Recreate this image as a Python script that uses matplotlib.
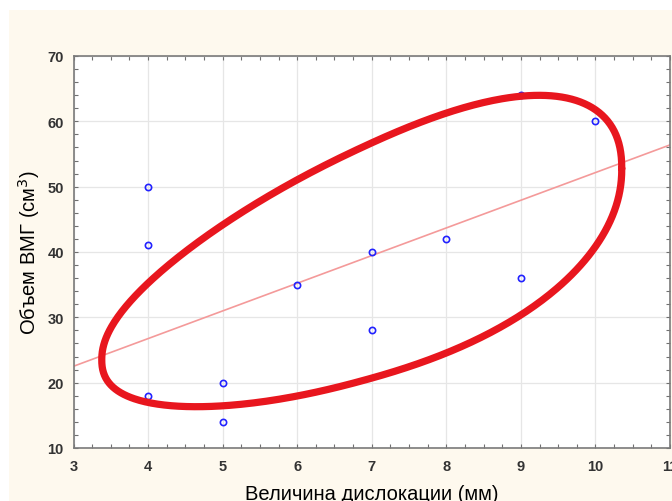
import numpy as np
import matplotlib
matplotlib.use("Agg")
import matplotlib.pyplot as plt
from matplotlib.patches import Rectangle
from matplotlib.ticker import MultipleLocator

# data
dislocation = [4, 4, 4, 5, 5, 6, 7, 7, 8, 9, 9, 10]
volume = [50, 41, 18, 20, 14, 35, 40, 28, 42, 36, 64, 60]

# hand-drawn loop: slanted, egg-shaped rounded oval
# centre (data), half length / half height (pixels), slope of its middle line (data units),
# squareness exponent, egg factor
loop_center = (6.866, 38.14)
loop_len, loop_h, loop_slope = 260, 116.7, 4.2
loop_n, loop_egg = 2.2, 0.215

plt.rcParams['font.family'] = ['Liberation Sans', 'DejaVu Sans']

fig = plt.figure(figsize=(6.72, 5.02), dpi=100)
fig.patch.set_facecolor('white')
bg = Rectangle((9 / 672, 0), 1, 1 - 11 / 502, transform=fig.transFigure,
               facecolor='#FEF9EE', edgecolor='none', zorder=-10)
fig.add_artist(bg)

ax = fig.add_axes([73.5 / 672, 53 / 502, 596.5 / 672, 392 / 502])
ax.set_zorder(1)
ax.set_xlim(3, 11)
ax.set_ylim(10, 70)
ax.set_facecolor('white')

ax.xaxis.set_minor_locator(MultipleLocator(0.25))
ax.yaxis.set_minor_locator(MultipleLocator(2))
ax.tick_params(which='both', direction='in', top=True, right=True,
               length=3, width=0.8, color='#707070')
ax.tick_params(which='major', labelsize=10.5, labelcolor='#333333')
ax.tick_params(axis='x', which='major', pad=8)
ax.tick_params(axis='y', which='major', pad=7)
ax.set_xticks(range(3, 12))
ax.set_xticklabels([str(v) for v in range(3, 12)], fontweight='bold')
ax.set_yticks(range(10, 71, 10))
ax.set_yticklabels([str(v) for v in range(10, 71, 10)], fontweight='bold')

for s in ax.spines.values():
    s.set_color('#7A7A7A')
    s.set_linewidth(1.2)

ax.grid(True, which='major', color='#E6E6E6', linewidth=0.9)
ax.set_axisbelow(True)

# regression line
k, b = np.polyfit(dislocation, volume, 1)
xs = np.array([3, 11])
ax.plot(xs, k * xs + b, color='#F49A9A', linewidth=1.2, zorder=2)

ax.plot(dislocation, volume, 'o', markersize=4.5, markerfacecolor='none',
        markeredgecolor='#2222FF', markeredgewidth=1.2, zorder=3, clip_on=False)

# loop: pixel sizes converted to data units
sx = 596.5 / 8
sy = 392 / 60
t = np.linspace(0, 2 * np.pi, 600)
c, s_ = np.cos(t), np.sin(t)
p = np.sign(c) * np.abs(c) ** (2 / loop_n)
q = np.sign(s_) * np.abs(s_) ** (2 / loop_n)
lx = loop_center[0] + loop_len * p / sx
ly = (loop_center[1] + loop_slope * (lx - loop_center[0])
      + loop_h * q * (1 + loop_egg * p) / sy)
ax.plot(lx, ly, color='#E8161E', linewidth=5.2, solid_capstyle='round', zorder=4)

ax.set_xlabel('Величина дислокации (мм)', fontsize=14.5, labelpad=8)
ax.set_ylabel('Объем ВМГ (см$^3$)', fontsize=14.5, labelpad=4)

fig.savefig('out.png', dpi=100)
